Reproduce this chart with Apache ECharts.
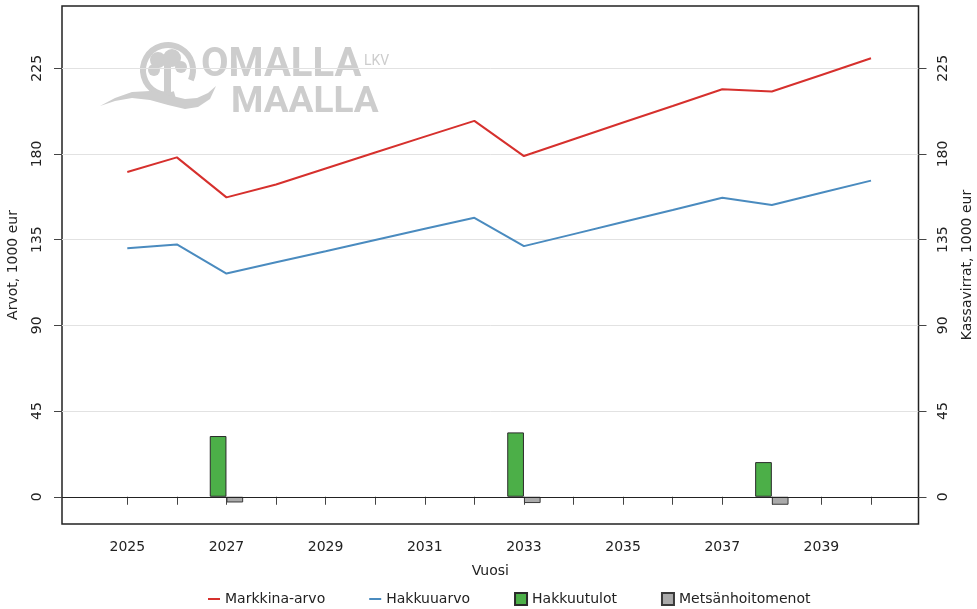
<!DOCTYPE html>
<html>
<head>
<meta charset="utf-8">
<title>Arvot ja kassavirrat</title>
<script src="https://cdn.jsdelivr.net/npm/echarts@6/dist/echarts.min.js"></script>
<style>
  html, body { margin: 0; padding: 0; background: #fff; }
  #chart { width: 977px; height: 609px; }
</style>
</head>
<body>
<div id="chart"></div>
<script>
// vuodet ja sarjat (1000 eur)
const years = [2025, 2026, 2027, 2028, 2029, 2030, 2031, 2032, 2033, 2034, 2035, 2036, 2037, 2038, 2039, 2040];
const yearLabels = [2025, 2027, 2029, 2031, 2033, 2035, 2037, 2039];
const marketValue = [170.5, 178.2, 157.2, 164.0, 172.4, 180.8, 189.1, 197.4, 178.9, 187.7, 196.5, 205.2, 214.0, 212.8, 221.5, 230.3];
const cuttingValue = [130.5, 132.5, 117.2, 123.1, 128.9, 134.8, 140.7, 146.5, 131.6, 137.9, 144.3, 150.6, 157.0, 153.2, 159.6, 166.0];
const barYears = [2027, 2033, 2038];
const harvestIncome = [31.9, 33.8, 18.2];
const forestCareCost = [-3.0, -3.3, -4.2];
const yTicks = [0, 45, 90, 135, 180, 225];

const FONT = 'DejaVu Sans';
const TEXT = '#222';
const LOGO = '#cdcdcd';

const pairs = (xs, ys) => xs.map((x, i) => [x, ys[i]]);

function valueAxis(pos, name) {
  return {
    type: 'value',
    position: pos,
    min: -14.3,
    max: 257.7,
    name: name,
    nameLocation: 'middle',
    nameGap: 42,
    nameRotate: 90,
    nameTextStyle: { fontFamily: FONT, fontSize: 14, color: TEXT },
    axisLine: { show: false },
    axisTick: { show: true, length: 8, customValues: yTicks, lineStyle: { color: '#444' } },
    axisLabel: {
      customValues: yTicks, rotate: 90, margin: 18,
      fontFamily: FONT, fontSize: 14, color: TEXT
    },
    splitLine: pos === 'left'
      ? { show: true, lineStyle: { color: '#e2e2e2', width: 1 } }
      : { show: false }
  };
}

const chart = echarts.init(document.getElementById('chart'));

const option = {
  backgroundColor: '#fff',
  animation: false,
  grid: {
    left: 62, right: 58.5, top: 6, bottom: 85,
    outerBoundsMode: 'none',
    containLabel: false,
    show: true, borderColor: '#222', borderWidth: 1.5, backgroundColor: 'transparent'
  },
  xAxis: {
    type: 'value',
    min: 2023.683,
    max: 2040.958,
    name: 'Vuosi',
    nameLocation: 'middle',
    nameGap: 40,
    nameTextStyle: { fontFamily: FONT, fontSize: 14, color: TEXT },
    axisLine: { show: false },
    axisTick: { show: true, length: 8, customValues: years, lineStyle: { color: '#444' } },
    axisLabel: {
      customValues: yearLabels, margin: 16,
      formatter: v => String(v),
      fontFamily: FONT, fontSize: 14, color: TEXT
    },
    splitLine: { show: false }
  },
  yAxis: [
    valueAxis('left', 'Arvot, 1000 eur'),
    valueAxis('right', 'Kassavirrat, 1000 eur')
  ],
  legend: {
    top: 587,
    left: 203,
    itemGap: 44,
    itemWidth: 12,
    itemHeight: 12,
    textStyle: { fontFamily: FONT, fontSize: 14, color: TEXT },
    data: [
      { name: 'Markkina-arvo', icon: 'path://M0 0H12V2H0Z' },
      { name: 'Hakkuuarvo', icon: 'path://M0 0H12V2H0Z' },
      { name: 'Hakkuutulot', icon: 'rect' },
      { name: 'Metsänhoitomenot', icon: 'rect' }
    ]
  },
  graphic: [
    {
      type: 'group', z: 0, silent: true,
      children: [
        { type: 'arc', shape: { cx: 168, cy: 70, r: 25, startAngle: 1.3, endAngle: 6.7 },
          style: { stroke: LOGO, lineWidth: 6, fill: null } },
        { type: 'circle', shape: { cx: 158, cy: 60, r: 8 }, style: { fill: LOGO } },
        { type: 'circle', shape: { cx: 172, cy: 58, r: 9 }, style: { fill: LOGO } },
        { type: 'circle', shape: { cx: 154, cy: 70, r: 6 }, style: { fill: LOGO } },
        { type: 'circle', shape: { cx: 181, cy: 67, r: 6 }, style: { fill: LOGO } },
        { type: 'rect', shape: { x: 164, y: 62, width: 7, height: 30 }, style: { fill: LOGO } },
        { type: 'polygon',
          shape: { points: [[100, 106], [115, 98], [132, 92], [150, 91], [168, 95], [185, 99], [197, 98], [208, 93], [216, 86],
                            [210, 99], [198, 107], [185, 109], [168, 105], [150, 100], [132, 98], [115, 101]] },
          style: { fill: LOGO } },
        { type: 'text', x: 201, y: 46, style: { text: 'OMALLA', font: 'bold 40px Roboto', fill: LOGO } },
        { type: 'text', x: 231, y: 84, style: { text: 'MAALLA', font: 'bold 37px Roboto', fill: LOGO } },
        { type: 'text', x: 364, y: 54, style: { text: 'LKV', font: '14px Roboto', fill: LOGO } }
      ]
    }
  ],
  series: [
    {
      name: 'Markkina-arvo',
      type: 'line',
      yAxisIndex: 0,
      data: pairs(years, marketValue),
      showSymbol: false,
      lineStyle: { color: '#d6302d', width: 2 },
      itemStyle: { color: '#d6302d' },
      z: 3
    },
    {
      name: 'Hakkuuarvo',
      type: 'line',
      yAxisIndex: 0,
      data: pairs(years, cuttingValue),
      showSymbol: false,
      lineStyle: { color: '#4a8bbf', width: 2 },
      itemStyle: { color: '#4a8bbf' },
      z: 3
    },
    {
      name: 'Hakkuutulot',
      type: 'bar',
      yAxisIndex: 1,
      data: pairs(barYears, harvestIncome),
      barWidth: 16.7,
      barGap: '0%',
      itemStyle: { color: '#4caf48', borderColor: '#2a2a2a', borderWidth: 1 }
    },
    {
      name: 'Metsänhoitomenot',
      type: 'bar',
      yAxisIndex: 1,
      data: pairs(barYears, forestCareCost),
      barWidth: 16.7,
      barGap: '0%',
      itemStyle: { color: '#aaaaaa', borderColor: '#3a3a3a', borderWidth: 1 },
      markLine: {
        silent: true,
        symbol: 'none',
        label: { show: false },
        lineStyle: { color: '#222', width: 1.2, type: 'solid' },
        data: [{ yAxis: 0 }]
      }
    }
  ]
};

chart.setOption(option);
window.addEventListener('resize', () => chart.resize());
</script>
</body>
</html>
